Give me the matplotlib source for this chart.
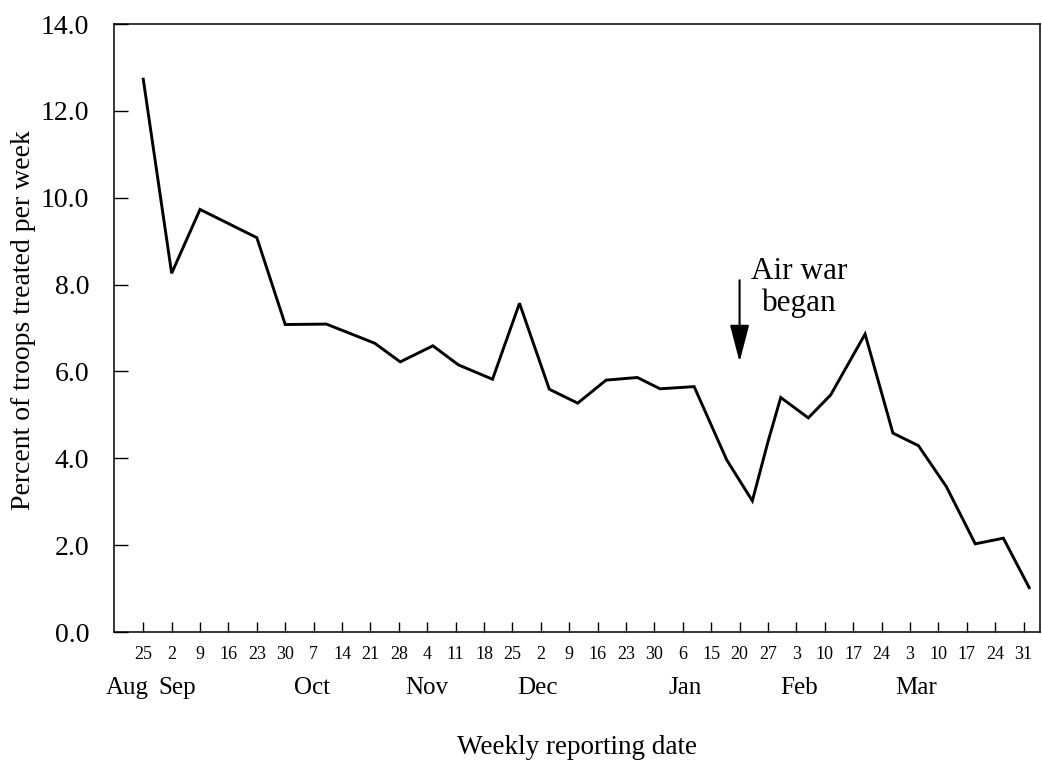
import matplotlib
matplotlib.use("Agg")
import matplotlib.pyplot as plt
from matplotlib.transforms import blended_transform_factory

# ---- data ----
day_labels = ["25", "2", "9", "16", "23", "30", "7", "14", "21", "28", "4", "11",
              "18", "25", "2", "9", "16", "23", "30", "6", "15", "20", "27", "3",
              "10", "17", "24", "3", "10", "17", "24", "31"]
month_labels = ["Aug", "Sep", "Oct", "Nov", "Dec", "Jan", "Feb", "Mar"]
month_pos = [-0.55, 1.2, 5.95, 10.0, 13.9, 19.1, 23.1, 27.2]

week_pos = [0, 1, 2, 4, 5, 6.45, 8.15, 9.05, 10.2, 11.1, 12.3, 13.25, 14.3,
            15.3, 16.3, 17.4, 18.2, 19.4, 20.55, 21.45, 22.0, 22.45, 23.42,
            24.21, 25.42, 26.4, 27.3, 28.28, 29.3, 30.29, 31.2]
percent = [12.73, 8.26, 9.73, 9.08, 7.08, 7.09, 6.65, 6.22, 6.59, 6.15, 5.82,
           7.57, 5.59, 5.27, 5.80, 5.86, 5.60, 5.65, 3.96, 3.02, 4.38, 5.40,
           4.93, 5.46, 6.86, 4.58, 4.29, 3.35, 2.03, 2.16, 1.02]

arrow_x = 21.0
arrow_top, arrow_tip = 8.1, 6.22
note_text = "Air war\nbegan"
note_pos = (23.1, 7.93)

plt.rcParams['font.family'] = ['Liberation Serif', 'DejaVu Serif']

fig = plt.figure(figsize=(10.42, 7.63), dpi=100)
ax = fig.add_axes([114 / 1042, 1 - 632 / 763, (1040 - 114) / 1042, (632 - 24) / 763])

ax.plot(week_pos, percent, color='black', lw=2.1, solid_joinstyle='miter')

ax.set_xlim(-1.03, 31.58)
ax.set_ylim(0, 14)

ax.set_yticks([0, 2, 4, 6, 8, 10, 12, 14])
ax.set_yticklabels([f"{v:.1f}" for v in [0, 2, 4, 6, 8, 10, 12, 14]], fontsize=20)
ax.set_xticks(range(len(day_labels)))
ax.set_xticklabels(day_labels, fontsize=13)

ax.tick_params(axis='y', direction='in', length=10, width=1, pad=18, right=False)
ax.tick_params(axis='x', direction='in', length=7, width=1, pad=10, top=False)
for s in ax.spines.values():
    s.set_linewidth(1.1)

trans = blended_transform_factory(ax.transData, fig.transFigure)
for lab, p in zip(month_labels, month_pos):
    ax.text(p, 1 - 688 / 763, lab, transform=trans, ha='center', va='center',
            fontsize=18)

ax.set_ylabel("Percent of troops treated per week", fontsize=20)
ax.yaxis.set_label_coords(36 / 1042, 1 - 320 / 763, transform=fig.transFigure)
fig.text(577 / 1042, 1 - 748 / 763, "Weekly reporting date", ha='center',
         va='center', fontsize=19.5)

ax.annotate("", xy=(arrow_x, arrow_tip), xytext=(arrow_x, arrow_top),
            arrowprops=dict(arrowstyle="-|>,head_length=2.3,head_width=0.6",
                            color='black', lw=1.5, shrinkA=0, shrinkB=0))
ax.text(note_pos[0], note_pos[1], note_text, ha='center', va='center',
        fontsize=22.5, linespacing=1.1)

fig.savefig("out.png", dpi=100)
